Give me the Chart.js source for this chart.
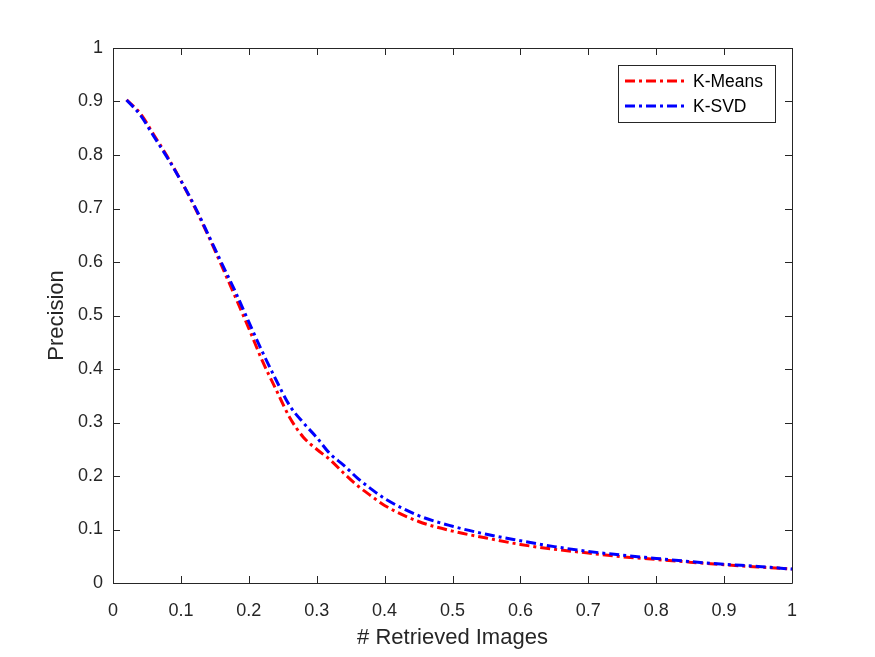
<!DOCTYPE html>
<html>
<head>
<meta charset="utf-8">
<script src="https://cdn.jsdelivr.net/npm/chart.js@4"></script>
<style>
  html, body { margin: 0; padding: 0; background: #fff; }
  #wrap { width: 875px; height: 657px; }
</style>
</head>
<body>
<div id="wrap"><canvas id="prChart" width="875" height="657"></canvas></div>
<script>
// Datos
const recallX = [0.02, 0.04, 0.06, 0.08, 0.10, 0.12, 0.14, 0.16, 0.18, 0.20,
                 0.22, 0.24, 0.26, 0.28, 0.30, 0.32, 0.34, 0.36, 0.38, 0.40,
                 0.45, 0.50, 0.55, 0.60, 0.65, 0.70, 0.75, 0.80, 0.85, 0.90, 0.95, 1.00];
const kMeans = [0.903, 0.878, 0.838, 0.797, 0.752, 0.703, 0.650, 0.593, 0.535, 0.476,
                0.415, 0.362, 0.310, 0.273, 0.250, 0.230, 0.205, 0.182, 0.163, 0.145,
                0.115, 0.097, 0.084, 0.072, 0.063, 0.056, 0.049, 0.044, 0.039, 0.034, 0.030, 0.026];
const kSvd   = [0.903, 0.875, 0.835, 0.795, 0.752, 0.705, 0.652, 0.598, 0.545, 0.488,
                0.432, 0.380, 0.332, 0.300, 0.272, 0.241, 0.220, 0.196, 0.176, 0.158,
                0.126, 0.106, 0.091, 0.079, 0.068, 0.059, 0.052, 0.046, 0.040, 0.035, 0.031, 0.026];
const seriesNames = ['K-Means', 'K-SVD'];
const xTicks = [0, 0.1, 0.2, 0.3, 0.4, 0.5, 0.6, 0.7, 0.8, 0.9, 1];
const yTicks = [0, 0.1, 0.2, 0.3, 0.4, 0.5, 0.6, 0.7, 0.8, 0.9, 1];

const axisColor = '#262626';
const dashDot = [10, 4, 3, 4];

function toPoints(ys) {
    return recallX.map((x, i) => ({ x: x, y: ys[i] }));
}

// Caja, marcas hacia dentro y leyenda al estilo MATLAB
const matlabAxes = {
    id: 'matlabAxes',
    afterDatasetsDraw(chart) {
        const ctx = chart.ctx;
        const a = chart.chartArea;
        const xs = chart.scales.x, ys = chart.scales.y;
        const tl = 7;
        ctx.save();
        ctx.strokeStyle = axisColor;
        ctx.lineWidth = 1;
        ctx.setLineDash([]);
        ctx.beginPath();
        ctx.rect(Math.round(a.left) + 0.5, Math.round(a.top) + 0.5,
                 Math.round(a.right - a.left), Math.round(a.bottom - a.top));
        xTicks.forEach(v => {
            const px = Math.round(xs.getPixelForValue(v)) + 0.5;
            ctx.moveTo(px, a.bottom); ctx.lineTo(px, a.bottom - tl);
            ctx.moveTo(px, a.top); ctx.lineTo(px, a.top + tl);
        });
        yTicks.forEach(v => {
            const py = Math.round(ys.getPixelForValue(v)) + 0.5;
            ctx.moveTo(a.left, py); ctx.lineTo(a.left + tl, py);
            ctx.moveTo(a.right, py); ctx.lineTo(a.right - tl, py);
        });
        ctx.stroke();

        // leyenda
        const bx = 618.5, by = 65.5, bw = 157, bh = 57;
        ctx.fillStyle = '#fff';
        ctx.fillRect(bx, by, bw, bh);
        ctx.strokeRect(bx, by, bw, bh);
        ctx.font = '17.5px "Liberation Sans", Arial, sans-serif';
        ctx.textBaseline = 'middle';
        const rowsY = [81, 106];
        chart.data.datasets.forEach((ds, i) => {
            const y = rowsY[i];
            ctx.strokeStyle = ds.borderColor;
            ctx.lineWidth = 3;
            ctx.setLineDash(dashDot);
            ctx.beginPath();
            ctx.moveTo(625, y); ctx.lineTo(686, y);
            ctx.stroke();
            ctx.fillStyle = '#000';
            ctx.fillText(ds.label, 693, y + 1);
        });
        ctx.restore();
    }
};

document.addEventListener('DOMContentLoaded', () => {
    const ctx = document.getElementById('prChart').getContext('2d');
    new Chart(ctx, {
        type: 'line',
        data: {
            datasets: [
                {
                    label: seriesNames[0],
                    data: toPoints(kMeans),
                    borderColor: '#ff0000',
                    borderWidth: 3,
                    borderDash: dashDot,
                    pointRadius: 0,
                    cubicInterpolationMode: 'monotone',
                    order: 1
                },
                {
                    label: seriesNames[1],
                    data: toPoints(kSvd),
                    borderColor: '#0000ff',
                    borderWidth: 3,
                    borderDash: dashDot,
                    pointRadius: 0,
                    cubicInterpolationMode: 'monotone',
                    order: 0
                }
            ]
        },
        options: {
            responsive: false,
            animation: false,
            layout: { padding: { left: 0, top: 48, right: 83, bottom: 0 } },
            plugins: {
                legend: { display: false },
                tooltip: { enabled: false }
            },
            scales: {
                x: {
                    type: 'linear',
                    min: 0, max: 1,
                    afterFit: s => { s.height = 74; },
                    afterBuildTicks: s => { s.ticks = xTicks.map(v => ({ value: v })); },
                    grid: { display: false, drawTicks: false },
                    border: { display: false },
                    ticks: {
                        padding: 17,
                        color: axisColor,
                        maxRotation: 0,
                        font: { family: '"Liberation Sans", Arial, sans-serif', size: 18 },
                        callback: v => String(Math.round(v * 10) / 10)
                    },
                    title: {
                        display: true,
                        text: '# Retrieved Images',
                        color: axisColor,
                        padding: { top: 0, bottom: 6 },
                        font: { family: '"Liberation Sans", Arial, sans-serif', size: 22 }
                    }
                },
                y: {
                    type: 'linear',
                    min: 0, max: 1,
                    afterFit: s => { s.width = 113; },
                    afterBuildTicks: s => { s.ticks = yTicks.map(v => ({ value: v })); },
                    grid: { display: false, drawTicks: false },
                    border: { display: false },
                    ticks: {
                        padding: 10,
                        color: axisColor,
                        font: { family: '"Liberation Sans", Arial, sans-serif', size: 18 },
                        callback: v => String(Math.round(v * 10) / 10)
                    },
                    title: {
                        display: true,
                        text: 'Precision',
                        color: axisColor,
                        padding: { top: 44, bottom: 0 },
                        font: { family: '"Liberation Sans", Arial, sans-serif', size: 22 }
                    }
                }
            }
        },
        plugins: [matlabAxes]
    });
});
</script>
</body>
</html>
